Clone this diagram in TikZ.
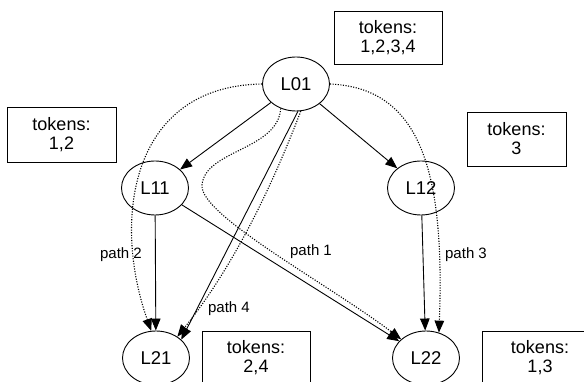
\documentclass[tikz,border=0pt]{standalone}
\usepackage{fontspec}
\setmainfont{Liberation Sans}
\usetikzlibrary{arrows.meta,shapes.geometric}

\tikzset{
  level/.style={ellipse, draw, line width=0.9pt, minimum width=67pt, minimum height=54pt,
    inner sep=0pt, font=\fontsize{18.5}{20}\selectfont},
  tokenbox/.style={rectangle, draw, line width=0.9pt, minimum width=108pt, minimum height=54pt,
    inner sep=0pt, align=center, font=\fontsize{18}{19}\selectfont},
  link/.style={line width=0.9pt, -{Triangle[length=12pt,width=9.5pt]}},
  route/.style={line width=1.1pt, dash pattern=on 1.1pt off 1.5pt, -{Triangle[length=12pt,width=9.5pt]}},
  routelabel/.style={inner sep=0pt, font=\fontsize{15}{17}\selectfont}
}

\begin{document}
\begin{tikzpicture}[x=1pt, y=-1pt]
  \useasboundingbox (0,0) rectangle (584,382);

  % tree levels
  \node[level] (L01) at (296,84) {L01};
  \node[level] (L11) at (155,188) {L11};
  \node[level] (L12) at (421,188) {L12};
  \node[level] (L21) at (156,358) {L21};
  \node[level] (L22) at (426,358) {L22};

  % token sets
  \node[tokenbox, minimum height=53pt] (t1234) at (388,37.5) {tokens:\\1,2,3,4};
  \node[tokenbox, minimum width=109pt, minimum height=55pt] (t12) at (61.5,134.5) {tokens:\\1,2};
  \node[tokenbox, minimum width=99pt] (t3) at (516.5,139) {tokens:\\3};
  \node[tokenbox] (t24) at (256,358) {tokens:\\2,4};
  \node[tokenbox, minimum width=116pt] (t13) at (540,358) {tokens:\\1,3};

  % tree edges
  \draw[link] (L01) -- (L11);
  \draw[link] (L01) -- (L12);
  \draw[link] (L01.-86) -- (L21.36);
  \draw[link] (L11) -- (L21);
  \draw[link] (L11) -- (L22);
  \draw[link] (L12) -- (L22);

  % token routes
  \draw[route] (L01.west) .. controls (130,86) and (112,220) .. (L21.100);
  \draw[route] (L01.-122) .. controls (278,150) and (205,150) .. (202,185)
                          .. controls (199,215) and (330,285) .. (L22.143);
  \draw[route] (L01.-80) .. controls (271,189) and (233,267) .. (L21.45);
  \draw[route] (L01.east) .. controls (420,88) and (445,170) .. (L22.63);

  % route labels
  \node[routelabel] (p2) at (121,255) {path 2};
  \node[routelabel] (p1) at (311,252) {path 1};
  \node[routelabel] (p4) at (229,309) {path 4};
  \node[routelabel] (p3) at (466,255) {path 3};
\end{tikzpicture}
\end{document}
